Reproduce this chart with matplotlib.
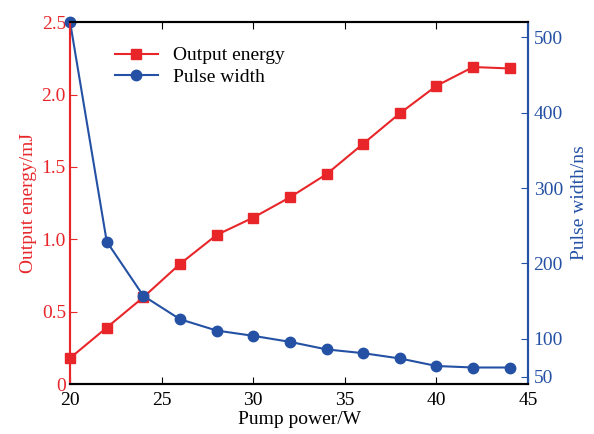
import matplotlib.pyplot as plt

plt.rcParams['font.family'] = ['Liberation Serif', 'DejaVu Serif']
plt.rcParams['mathtext.fontset'] = 'stix'

pump = [20, 22, 24, 26, 28, 30, 32, 34, 36, 38, 40, 42, 44]
energy = [0.18, 0.39, 0.60, 0.83, 1.03, 1.15, 1.29, 1.45, 1.66, 1.87, 2.06, 2.19, 2.18]
width = [520, 229, 157, 126, 111, 104, 96, 86, 81, 74, 64, 62, 62]

red = '#e8262a'
blue = '#2451a4'

fig = plt.figure(figsize=(5.94, 4.34), dpi=100)
ax1 = fig.add_axes([0.118, 0.115, 0.771, 0.834])
ax2 = ax1.twinx()

l1, = ax1.plot(pump, energy, color=red, marker='s', markersize=6.5, lw=1.5,
               label='Output energy', clip_on=False)
l2, = ax2.plot(pump, width, color=blue, marker='o', markersize=7.5, lw=1.5,
               label='Pulse width', clip_on=False)

ax1.set_xlim(20, 45)
ax1.set_ylim(0, 2.5)
ax2.set_ylim(40, 520)
ax1.set_xticks([20, 25, 30, 35, 40, 45])
ax1.set_yticks([0, 0.5, 1.0, 1.5, 2.0, 2.5])
ax1.set_yticklabels(['0', '0.5', '1.0', '1.5', '2.0', '2.5'])
ax2.set_yticks([50, 100, 200, 300, 400, 500])

fs = 14
ax1.tick_params(axis='x', direction='in', top=True, labelsize=fs, length=5, pad=6)
ax1.tick_params(axis='y', direction='in', colors=red, labelsize=fs, length=5, pad=3)
ax2.tick_params(axis='y', direction='in', colors=blue, labelsize=fs, length=5, pad=4)

ax1.set_xlabel('Pump power/W', fontsize=fs, labelpad=1)
ax1.set_ylabel('Output energy/mJ', fontsize=fs, color=red, labelpad=3)
ax2.set_ylabel('Pulse width/ns', fontsize=fs, color=blue, labelpad=6)

for ax in (ax1, ax2):
    ax.spines['left'].set_color(red)
    ax.spines['right'].set_color(blue)
    for s in ax.spines.values():
        s.set_linewidth(1.5)

ax2.legend(handles=[l1, l2], loc='upper left', bbox_to_anchor=(0.06, 0.98),
           frameon=False, fontsize=fs, handlelength=2.2, labelspacing=0.2)

fig.savefig('out.png', dpi=100)
